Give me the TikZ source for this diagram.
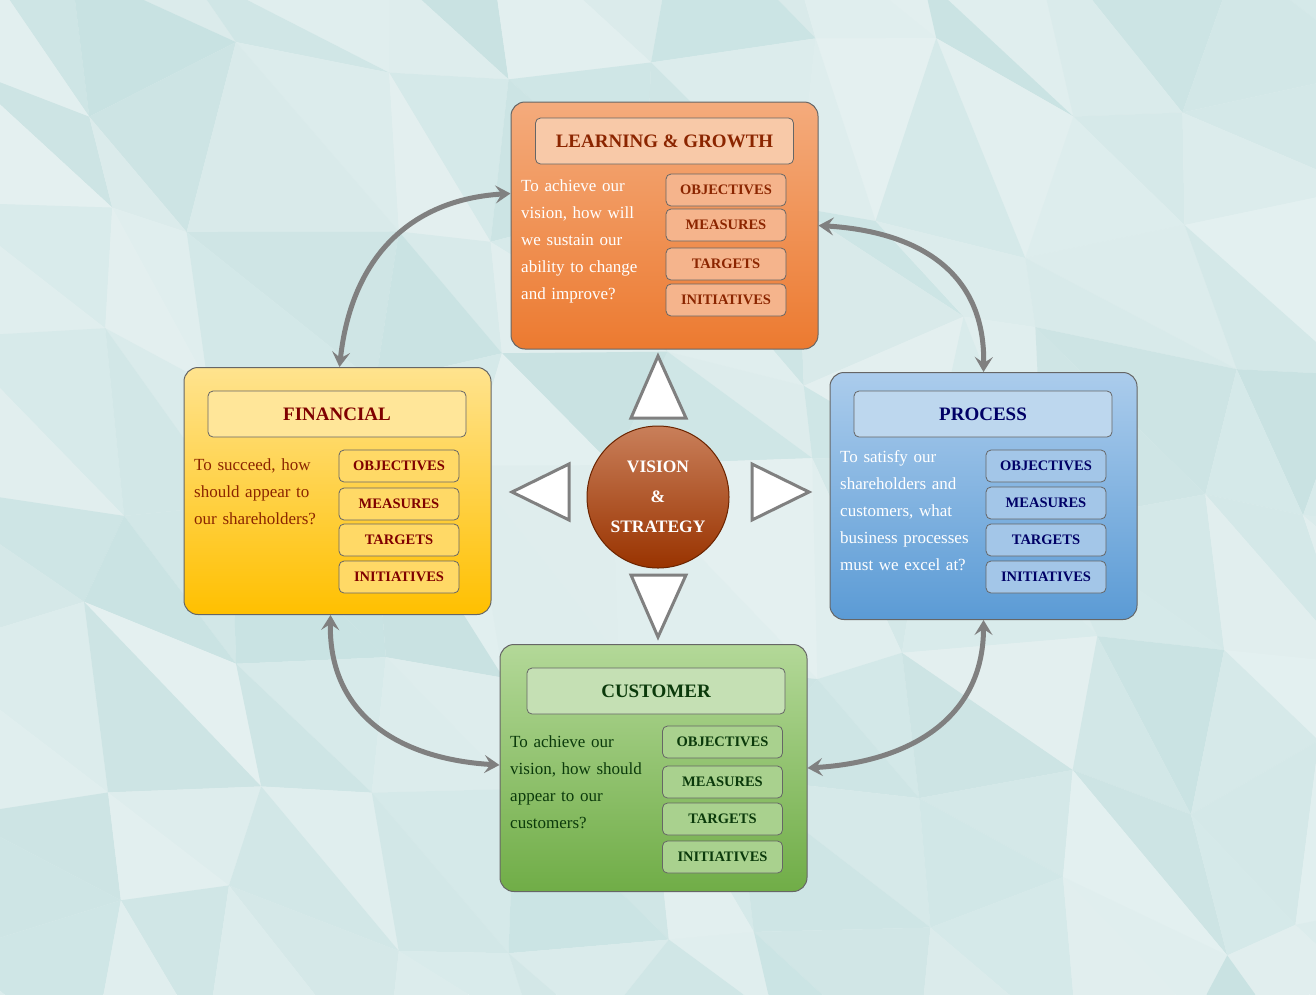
\documentclass[tikz,border=0pt]{standalone}
\usepackage{fontspec}
\setmainfont{Liberation Serif}
\usetikzlibrary{arrows.meta}
\usetikzlibrary{positioning}

\definecolor{bglight}{HTML}{E4F0F0}
\definecolor{bgdark}{HTML}{C8E2E2}
\definecolor{linkgray}{HTML}{808080}
\definecolor{lgtop}{HTML}{F4AB7C}
\definecolor{lgbot}{HTML}{EC7A30}
\definecolor{lghead}{HTML}{F8C9A8}
\definecolor{lgitem}{HTML}{F5B48C}
\definecolor{lgtext}{HTML}{8B2500}
\definecolor{fintop}{HTML}{FFE38E}
\definecolor{finbot}{HTML}{FFC000}
\definecolor{finhead}{HTML}{FFE699}
\definecolor{finitem}{HTML}{FFD966}
\definecolor{fintext}{HTML}{7F0000}
\definecolor{prctop}{HTML}{ABCCEC}
\definecolor{prcbot}{HTML}{5B9BD5}
\definecolor{prchead}{HTML}{BDD7EE}
\definecolor{prcitem}{HTML}{A3C6E8}
\definecolor{prctext}{HTML}{000066}
\definecolor{custop}{HTML}{B3D898}
\definecolor{cusbot}{HTML}{70AD47}
\definecolor{cushead}{HTML}{C5E0B4}
\definecolor{cusitem}{HTML}{A9D18E}
\definecolor{custext}{HTML}{0B3A0B}
\definecolor{vstop}{HTML}{C97F5A}
\definecolor{vsbot}{HTML}{993300}

\tikzset{
  panel/.style={draw=black!60, line width=1pt, rounded corners=14pt,
    minimum width=307pt, minimum height=247pt},
  headbox/.style={draw=black!60, line width=0.8pt, rounded corners=5pt,
    minimum width=258pt, minimum height=46pt,
    font=\fontsize{19}{19}\selectfont\bfseries},
  itembox/.style={draw=black!60, line width=0.8pt, rounded corners=5pt,
    minimum width=120pt, minimum height=32pt,
    font=\fontsize{14.5}{14.5}\selectfont\bfseries},
  question/.style={anchor=base west, inner sep=0pt, text width=140pt,
    align=left, font=\fontsize{17}{27}\selectfont},
  link/.style={draw=linkgray, line width=5pt,
    {Stealth[length=15pt,width=18pt,inset=6pt]}-{Stealth[length=15pt,width=18pt,inset=6pt]}},
  pointer/.style={draw=linkgray, line width=3pt, fill=white, line join=miter},
}

\begin{document}
\begin{tikzpicture}[x=1pt,y=-1pt]
\useasboundingbox (0,0) rectangle (1316,994);

% background
\fill[bglight] (0,0) rectangle (1316,994);
\begin{scope}
\clip (0,0) rectangle (1316,994);
\pgfmathsetseed{11}
\foreach \i in {0,...,11} {
  \foreach \j in {0,...,8} {
    \pgfmathsetmacro\px{\i*140-60+rand*45}
    \pgfmathsetmacro\py{\j*140-60+rand*45}
    \coordinate (g-\i-\j) at (\px,\py);
  }
}
\foreach \i [evaluate=\i as \ii using int(\i+1)] in {0,...,10} {
  \foreach \j [evaluate=\j as \jj using int(\j+1)] in {0,...,7} {
    \pgfmathsetmacro\sa{int(50+rand*50)}
    \pgfmathsetmacro\sb{int(50+rand*50)}
    \fill[bgdark!\sa!bglight] (g-\i-\j) -- (g-\ii-\j) -- (g-\ii-\jj) -- cycle;
    \fill[bgdark!\sb!bglight] (g-\i-\j) -- (g-\i-\jj) -- (g-\ii-\jj) -- cycle;
  }
}
\end{scope}

% learning & growth
\node[panel, top color=lgtop, middle color=lgbot, bottom color=lgbot] (LG) at (664.5,225.5) {};
\node[headbox, fill=lghead, text=lgtext] (LGt) at (664.5,141) {LEARNING \& GROWTH};
\node[itembox, fill=lgitem, text=lgtext] (LG1) at (726,190) {OBJECTIVES};
\node[itembox, fill=lgitem, text=lgtext] (LG2) at (726,225) {MEASURES};
\node[itembox, fill=lgitem, text=lgtext] (LG3) at (726,264) {TARGETS};
\node[itembox, fill=lgitem, text=lgtext] (LG4) at (726,300) {INITIATIVES};
\node[question, text=white] (LGq) at (521,191) {To achieve our\\vision, how will\\we sustain our\\ability to change\\and improve?};

% financial
\node[panel, top color=fintop, middle color=finbot, bottom color=finbot] (FIN) at (337.5,491) {};
\node[headbox, fill=finhead, text=fintext] (FINt) at (337,414) {FINANCIAL};
\node[itembox, fill=finitem, text=fintext] (FIN1) at (399,466) {OBJECTIVES};
\node[itembox, fill=finitem, text=fintext] (FIN2) at (399,504) {MEASURES};
\node[itembox, fill=finitem, text=fintext] (FIN3) at (399,540) {TARGETS};
\node[itembox, fill=finitem, text=fintext] (FIN4) at (399,577) {INITIATIVES};
\node[question, text=lgtext] (FINq) at (194,470) {To succeed, how\\should appear to\\our shareholders?};

% process
\node[panel, top color=prctop, middle color=prcbot, bottom color=prcbot] (PRC) at (983.5,496) {};
\node[headbox, fill=prchead, text=prctext] (PRCt) at (983,414) {PROCESS};
\node[itembox, fill=prcitem, text=prctext] (PRC1) at (1046,466) {OBJECTIVES};
\node[itembox, fill=prcitem, text=prctext] (PRC2) at (1046,503) {MEASURES};
\node[itembox, fill=prcitem, text=prctext] (PRC3) at (1046,540) {TARGETS};
\node[itembox, fill=prcitem, text=prctext] (PRC4) at (1046,577) {INITIATIVES};
\node[question, text=white] (PRCq) at (840,462) {To satisfy our\\shareholders and\\customers, what\\business processes\\must we excel at?};

% customer
\node[panel, top color=custop, middle color=cusbot, bottom color=cusbot] (CUS) at (653.5,768) {};
\node[headbox, fill=cushead, text=custext] (CUSt) at (656,691) {CUSTOMER};
\node[itembox, fill=cusitem, text=custext] (CUS1) at (722.5,742) {OBJECTIVES};
\node[itembox, fill=cusitem, text=custext] (CUS2) at (722.5,782) {MEASURES};
\node[itembox, fill=cusitem, text=custext] (CUS3) at (722.5,819) {TARGETS};
\node[itembox, fill=cusitem, text=custext] (CUS4) at (722.5,857) {INITIATIVES};
\node[question, text=custext] (CUSq) at (510,747) {To achieve our\\vision, how should\\appear to our\\customers?};

% vision & strategy
\node[circle, minimum size=142pt, draw=vsbot!70!black, line width=1pt,
  top color=vstop, middle color=vsbot, bottom color=vsbot, text=white,
  align=center, font=\fontsize{17.5}{30}\selectfont\bfseries] (VS) at (658,497) {VISION\\\&\\STRATEGY};

\draw[pointer] (658,356) -- (686,418) -- (631,418) -- cycle;
\draw[pointer] (631,575) -- (686,575) -- (658,637) -- cycle;
\draw[pointer] (512,492) -- (569,464) -- (569,520) -- cycle;
\draw[pointer] (752,464) -- (809,492) -- (752,520) -- cycle;

% links
\draw[link] ([xshift=2pt]FIN.north) .. controls +(12,-110) and +(-100,6) .. ([yshift=32pt]LG.west);
\draw[link] (LG.east) .. controls +(100,6) and +(2,-100) .. (PRC.north);
\draw[link] ([xshift=-7pt]FIN.south) .. controls +(-2,100) and +(-100,-6) .. ([yshift=3pt]CUS.west);
\draw[link] (PRC.south) .. controls +(0,100) and +(100,-6) .. (CUS.east);

\end{tikzpicture}
\end{document}
